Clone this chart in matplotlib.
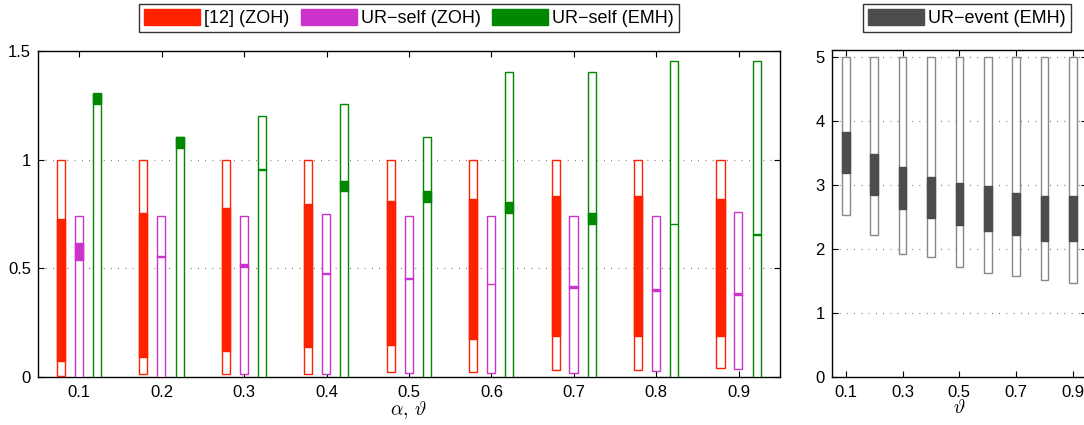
import matplotlib
matplotlib.use("Agg")
import matplotlib.pyplot as plt
from matplotlib.patches import Patch

plt.rcParams['font.family'] = ['Liberation Sans', 'DejaVu Sans']
plt.rcParams['mathtext.fontset'] = 'cm'

# ---------------- data ----------------
alpha = [0.1, 0.2, 0.3, 0.4, 0.5, 0.6, 0.7, 0.8, 0.9]

zoh12_min = [0.005, 0.012, 0.012, 0.015, 0.021, 0.021, 0.031, 0.031, 0.040]
zoh12_q1 = [0.073, 0.092, 0.118, 0.138, 0.147, 0.175, 0.188, 0.188, 0.187]
zoh12_q3 = [0.726, 0.756, 0.776, 0.796, 0.810, 0.821, 0.831, 0.831, 0.819]
zoh12_max = [1.0, 1.0, 1.0, 1.0, 1.0, 1.0, 1.0, 1.0, 1.0]

self_zoh_min = [0.0, 0.0, 0.012, 0.012, 0.020, 0.020, 0.020, 0.029, 0.038]
self_zoh_q1 = [0.539, 0.550, 0.507, 0.475, 0.449, 0.426, 0.409, 0.398, 0.379]
self_zoh_q3 = [0.618, 0.558, 0.520, 0.480, 0.457, 0.430, 0.421, 0.404, 0.388]
self_zoh_max = [0.740, 0.740, 0.740, 0.750, 0.740, 0.740, 0.740, 0.740, 0.758]

self_emh_min = [0.0, 0.0, 0.0, 0.0, 0.0, 0.0, 0.0, 0.0, 0.0]
self_emh_q1 = [1.256, 1.054, 0.953, 0.856, 0.803, 0.754, 0.705, 0.702, 0.653]
self_emh_q3 = [1.303, 1.102, 0.957, 0.901, 0.854, 0.803, 0.756, 0.706, 0.657]
self_emh_max = [1.305, 1.104, 1.203, 1.257, 1.104, 1.404, 1.404, 1.455, 1.455]

theta = [0.1, 0.2, 0.3, 0.4, 0.5, 0.6, 0.7, 0.8, 0.9]
event_min = [2.53, 2.22, 1.92, 1.87, 1.72, 1.62, 1.57, 1.52, 1.47]
event_q1 = [3.18, 2.84, 2.63, 2.48, 2.38, 2.28, 2.22, 2.12, 2.12]
event_q3 = [3.83, 3.48, 3.28, 3.13, 3.03, 2.98, 2.88, 2.83, 2.83]
event_max = [5.0, 5.0, 5.0, 5.0, 5.0, 5.0, 5.0, 5.0, 5.0]

labels_left = ['[12] (ZOH)', 'UR\u2212self (ZOH)', 'UR\u2212self (EMH)']
label_right = 'UR\u2212event (EMH)'

c_red = '#ff2200'
c_mag = '#cc33cc'
c_green = '#008800'
c_gray = '#4d4d4d'
c_gray_edge = '#888888'

# ---------------- figure ----------------
fig = plt.figure(figsize=(10.84, 4.25), dpi=100)
ax1 = fig.add_axes([38/1084, 48/425, 742/1084, 326/425])
ax2 = fig.add_axes([831.7/1084, 48/425, 255.3/1084, 326.6/425])

def draw_boxes(ax, x, lo, q1, q3, hi, offset, width, fc, ec):
    xs = [v + offset for v in x]
    ax.bar(xs, [h - l for h, l in zip(hi, lo)], bottom=lo, width=width,
           facecolor='white', edgecolor=ec, linewidth=1.0, zorder=3)
    ax.bar(xs, [b - a for a, b in zip(q1, q3)], bottom=q1, width=width,
           facecolor=fc, edgecolor=fc, linewidth=1.0, zorder=4)

bw = 0.0098
off = 0.0222
draw_boxes(ax1, alpha, zoh12_min, zoh12_q1, zoh12_q3, zoh12_max, -off, bw, c_red, c_red)
draw_boxes(ax1, alpha, self_zoh_min, self_zoh_q1, self_zoh_q3, self_zoh_max, -0.0005, bw, c_mag, c_mag)
draw_boxes(ax1, alpha, self_emh_min, self_emh_q1, self_emh_q3, self_emh_max, off - 0.0005, bw, c_green, c_green)

draw_boxes(ax2, theta, event_min, event_q1, event_q3, event_max, 0.0, 0.027, c_gray, c_gray_edge)

grid_kw = dict(color='#555555', linewidth=0.9, linestyle=(0, (0.6, 5.2)), zorder=1)

ax1.set_xlim(0.05, 0.95)
ax1.set_ylim(0, 1.5)
ax1.set_xticks(alpha)
ax1.set_xticklabels(['%.1f' % v for v in alpha])
ax1.set_yticks([0, 0.5, 1, 1.5])
ax1.set_yticklabels(['0', '0.5', '1', '1.5'])
for yv in [0.5, 1.0]:
    ax1.axhline(yv, **grid_kw)
ax1.set_xlabel(r'$\alpha,\,\vartheta$', fontsize=14, labelpad=-1)

ax2.set_xlim(0.05, 0.95)
ax2.set_ylim(0, 5.1)
ax2.set_xticks([0.1, 0.3, 0.5, 0.7, 0.9])
ax2.set_xticklabels(['0.1', '0.3', '0.5', '0.7', '0.9'])
ax2.set_yticks([0, 1, 2, 3, 4, 5])
for yv in [1, 2, 3, 4, 5]:
    ax2.axhline(yv, **grid_kw)
ax2.set_xlabel(r'$\vartheta$', fontsize=14, labelpad=-1)

for ax in (ax1, ax2):
    ax.tick_params(direction='in', top=True, right=True, length=4, width=0.8,
                   labelsize=12, colors='black')
    ax.tick_params(axis='x', pad=6)
    ax.tick_params(axis='y', pad=5)
    for s in ax.spines.values():
        s.set_linewidth(1.0)
        s.set_color('black')

# ---------------- legends ----------------
handles_left = [Patch(facecolor=c, edgecolor=c) for c in (c_red, c_mag, c_green)]
leg1 = fig.legend(handles_left, labels_left, loc='center', ncol=3,
                  bbox_to_anchor=(409/1084, 1 - 18/425), fontsize=13,
                  frameon=True, fancybox=False, edgecolor='black',
                  handlelength=3.1, handleheight=0.95, handletextpad=0.25,
                  columnspacing=0.6, borderpad=0.3, borderaxespad=0)
leg1.get_frame().set_linewidth(1.0)

leg2 = fig.legend([Patch(facecolor=c_gray, edgecolor=c_gray)], [label_right],
                  loc='center', bbox_to_anchor=(967/1084, 1 - 18/425), fontsize=13,
                  frameon=True, fancybox=False, edgecolor='black',
                  handlelength=3.1, handleheight=0.95, handletextpad=0.25,
                  borderpad=0.3, borderaxespad=0)
leg2.get_frame().set_linewidth(1.0)

fig.savefig('out.png', dpi=100)
